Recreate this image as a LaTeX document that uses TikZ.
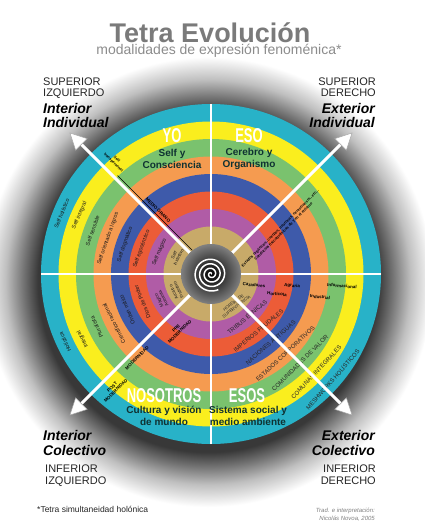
\documentclass[tikz,border=0pt]{standalone}
\usepackage{fontspec}
\setmainfont{Liberation Sans}
\usepackage{graphicx}
\usetikzlibrary{arrows.meta}

\definecolor{ringteal}{RGB}{40,178,200}
\definecolor{ringyellow}{RGB}{250,238,30}
\definecolor{ringgreen}{RGB}{122,194,110}
\definecolor{ringorange}{RGB}{245,155,80}
\definecolor{ringblue}{RGB}{62,90,170}
\definecolor{ringred}{RGB}{236,92,55}
\definecolor{ringpurple}{RGB}{176,92,166}
\definecolor{ringtan}{RGB}{200,170,105}
\definecolor{themeink}{RGB}{15,50,50}

\pgfdeclareradialshading{ringhalo}{\pgfpoint{0bp}{0bp}}{color(0bp)=(black!78); color(18.9bp)=(black!78); color(20.5bp)=(black!55); color(22.5bp)=(black!25); color(25bp)=(white); color(50bp)=(white)}

\newcommand{\squeezed}[1]{\scalebox{0.65}[1]{#1}}

\tikzstyle{headline} = [font=\fontsize{27}{30}\selectfont\bfseries, inner sep=0pt, anchor=base]
\tikzstyle{corner} = [font=\fontsize{11}{12}\selectfont, text=black!85, inner sep=0pt]
\tikzstyle{quadrant} = [font=\fontsize{14}{15}\selectfont\bfseries\itshape, inner sep=0pt]
\tikzstyle{bigword} = [font=\fontsize{20}{20}\selectfont\bfseries, text=white, inner sep=0pt]
\tikzstyle{theme} = [font=\fontsize{10}{11.5}\selectfont\bfseries, text=themeink, align=center, inner sep=0pt]
\tikzstyle{ringtext} = [font=\fontsize{5.5}{6}\selectfont, text=black!90, align=center, inner sep=0pt]
\tikzstyle{smallring} = [font=\fontsize{4.5}{5}\selectfont, text=black!90, align=center, inner sep=0pt]
\tikzstyle{society} = [font=\fontsize{6}{7}\selectfont, text=black!85, inner sep=0pt]
\tikzstyle{tag} = [font=\fontsize{4.5}{5}\selectfont\bfseries, align=center, inner sep=0pt]
\tikzstyle{note} = [font=\fontsize{3.8}{4.6}\selectfont\bfseries, align=center, inner sep=0pt]
\tikzstyle{whitearrow} = [white, line width=3pt, -{Triangle[length=17pt, width=17pt, color=black!35, fill=white, line width=0.5pt]}]

\begin{document}
\begin{tikzpicture}[x=1pt, y=-1pt]
	\useasboundingbox (0,0) rectangle (425,532);
	\fill[white] (0,0) rectangle (425,532);
	
	% title
	\node[headline, text=black!52] (title) at (210,43) {Tetra Evolución};
	\node[font=\fontsize{14}{16}\selectfont, text=black!45, anchor=base, inner sep=0pt] (subtitle) at (219,54.5) {modalidades de expresión fenoménica*};
	
	% the circle
	\begin{scope}[shift={(211,274)}, y={(0pt,1pt)}]
		\shade[shading=ringhalo] (-3,-8) circle (225);
		\foreach \r/\c in {170/ringteal, 152.5/ringyellow, 135/ringgreen, 117.5/ringorange, 100/ringblue, 82.5/ringred, 65/ringpurple, 47.5/ringtan}
		\fill[\c] (0,0) circle (\r);
		\draw[white, line width=1.2pt] (180:170) -- (0:170);
		\draw[white, line width=1.2pt] (90:170) -- (270:170);
		
		% YO
		\node[ringtext, rotate=68] (selfholistic) at (158:161) {Self holístico};
		\node[ringtext, rotate=66] (selfintegral) at (156:144) {Self integral};
		\node[ringtext, rotate=70] (selfsensitive) at (160:126) {Self sensible};
		\node[ringtext, rotate=71] (selfachiever) at (161:109) {Self orientado a logros};
		\node[ringtext, rotate=71] (selfdogmatic) at (161:91) {Self dogmático};
		\node[ringtext, rotate=70] (selfegocentric) at (160:74) {Self egocéntrico};
		\node[ringtext, rotate=67] (selfmagic) at (157:56) {Self mágico};
		\node[smallring, rotate=63] (selfinstinct) at (153:39) {Self\\instintivo};
		\draw[black, line width=0.6pt] (-18.7,23.7) -- (-93.5,98.5);
		\node[tag, rotate=-45] (grain) at (-53,64) {MEDIO GRANO};
		\node[note, rotate=-45] (transpersonal) at (-96,113) {Self\\transpersonal};
		
		% NOSOTROS
		\node[ringtext, rotate=115] (holistic) at (205:161) {Holística};
		\node[ringtext, rotate=117] (integral) at (207:144) {Integral};
		\node[ringtext, rotate=115] (pluralist) at (205:126) {Pluralista};
		\node[ringtext, rotate=117] (rational) at (207:109) {Científico racional};
		\node[ringtext, rotate=113] (mythic) at (203:91) {Orden mítico};
		\node[ringtext, rotate=112] (power) at (202:74) {Dios de Poder};
		\node[smallring, rotate=117] (animist) at (207:56) {Mágico\\Animista};
		\node[smallring, rotate=116] (archaic) at (206:39) {Arcaico\\Instintivo};
		\node[tag, rotate=45] (premodern) at (-33,-56) {PRE\\MODERNIDAD};
		\node[tag, rotate=45] (modern) at (-74,-84) {MODERNIDAD};
		\node[tag, rotate=45] (postmodern) at (-97,-115) {POST\\MODERNIDAD};
		
		% ESOS
		\node[society, font=\fontsize{4.2}{4.8}\selectfont, align=center, rotate=38] (hordes) at (-52:39) {HORDAS DE\\SUPERVIVENCIA};
		\node[society, rotate=40] (tribes) at (-50:56) {TRIBUS ÉTNICAS};
		\node[society, rotate=40] (empires) at (-50:74) {IMPERIOS FEUDALES};
		\node[society, rotate=41] (nations) at (-49:91) {NACIONES ANTIGUAS};
		\node[society, rotate=43] (corporate) at (-47:109) {ESTADOS CORPORATIVOS};
		\node[society, rotate=45] (values) at (-45:126) {COMUNIDADES DE VALOR};
		\node[society, rotate=47] (communes) at (-43:144) {COMUNAS INTEGRALES};
		\node[society, rotate=49] (meshworks) at (-41:161) {MESHWORKS HOLÍSTICOS};
		
		% ESO
		\node[note, rotate=45] (esodata) at (71,44) {Estados orgánicos, cuerpos, neuronas, neurotransm., etc...\\Conductas fisicoquímicas de y en el entorno};
		
		% arrows
		\coordinate (hub) at (0,0);
		\foreach \a/\n in {45/NE, 135/NW, 225/SW, 315/SE} {
			\coordinate (foot\n) at (\a:30);
			\coordinate (tip\n) at (\a:200);
			\draw[whitearrow] (foot\n) -- (tip\n);
		}
		
		% centre
		\shade[inner color=black, outer color=black!50] (hub) circle (30);
		\draw[white, line width=1.5pt] plot[domain=0:24, samples=220, smooth] ({0.72*\x*cos(\x r)}, {0.72*\x*sin(\x r)});
	\end{scope}
	
	% epochs
	\node[tag, rotate=-5] (hunters) at (254,285) {Cazadores};
	\node[tag, rotate=-5] (horticultural) at (277,294) {Horticola};
	\node[tag, rotate=-5] (agrarian) at (292,286) {Agraria};
	\node[tag, rotate=-5] (industrial) at (320,297) {Industrial};
	\node[tag, rotate=-5] (informational) at (342,286) {Informacional};
	
	% quadrant names
	\node[bigword] (YO) at (172,136) {\squeezed{YO}};
	\node[bigword] (ESO) at (249,136) {\squeezed{ESO}};
	\node[bigword] (NOSOTROS) at (164,395.5) {\squeezed{NOSOTROS}};
	\node[bigword] (ESOS) at (247,395.5) {\squeezed{ESOS}};
	\node[theme] (self) at (172,159) {Self y\\Consciencia};
	\node[theme] (brain) at (249,159) {Cerebro y\\Organismo};
	\node[theme] (culture) at (164,416) {Cultura y visión\\de mundo};
	\node[theme] (system) at (248,416) {Sistema social y\\medio ambiente};
	
	% corners
	\node[corner, anchor=base west] (ULpos) at (43,85.5) {SUPERIOR};
	\node[corner, anchor=base west] (ULside) at (43,96.5) {IZQUIERDO};
	\node[quadrant, anchor=base west] (ULkind) at (43,113.5) {Interior};
	\node[quadrant, anchor=base west] (ULname) at (43,127.5) {Individual};
	
	\node[corner, anchor=base east] (URpos) at (376,85.5) {SUPERIOR};
	\node[corner, anchor=base east] (URside) at (376,96.5) {DERECHO};
	\node[quadrant, anchor=base east] (URkind) at (375,113.5) {Exterior};
	\node[quadrant, anchor=base east] (URname) at (375,127.5) {Individual};
	
	\node[quadrant, anchor=base west] (LLkind) at (43,440) {Interior};
	\node[quadrant, anchor=base west] (LLname) at (43,455) {Colectivo};
	\node[corner, anchor=base west] (LLpos) at (45,472) {INFERIOR};
	\node[corner, anchor=base west] (LLside) at (45,484) {IZQUIERDO};
	
	\node[quadrant, anchor=base east] (LRkind) at (375,440) {Exterior};
	\node[quadrant, anchor=base east] (LRname) at (375,455) {Colectivo};
	\node[corner, anchor=base east] (LRpos) at (376,472) {INFERIOR};
	\node[corner, anchor=base east] (LRside) at (376,484.5) {DERECHO};
	
	% notes
	\node[font=\fontsize{8.5}{10}\selectfont, text=black!85, anchor=base west, inner sep=0pt] (footnote) at (37,512) {*Tetra simultaneidad holónica};
	\node[font=\fontsize{6}{7}\selectfont\itshape, text=black!50, anchor=base east, inner sep=0pt] (credit) at (375,512.5) {Trad. e interpretación:};
	\node[font=\fontsize{6}{7}\selectfont\itshape, text=black!50, anchor=base east, inner sep=0pt] (author) at (375,520) {Nicolás Novoa, 2005};
\end{tikzpicture}
\end{document}
